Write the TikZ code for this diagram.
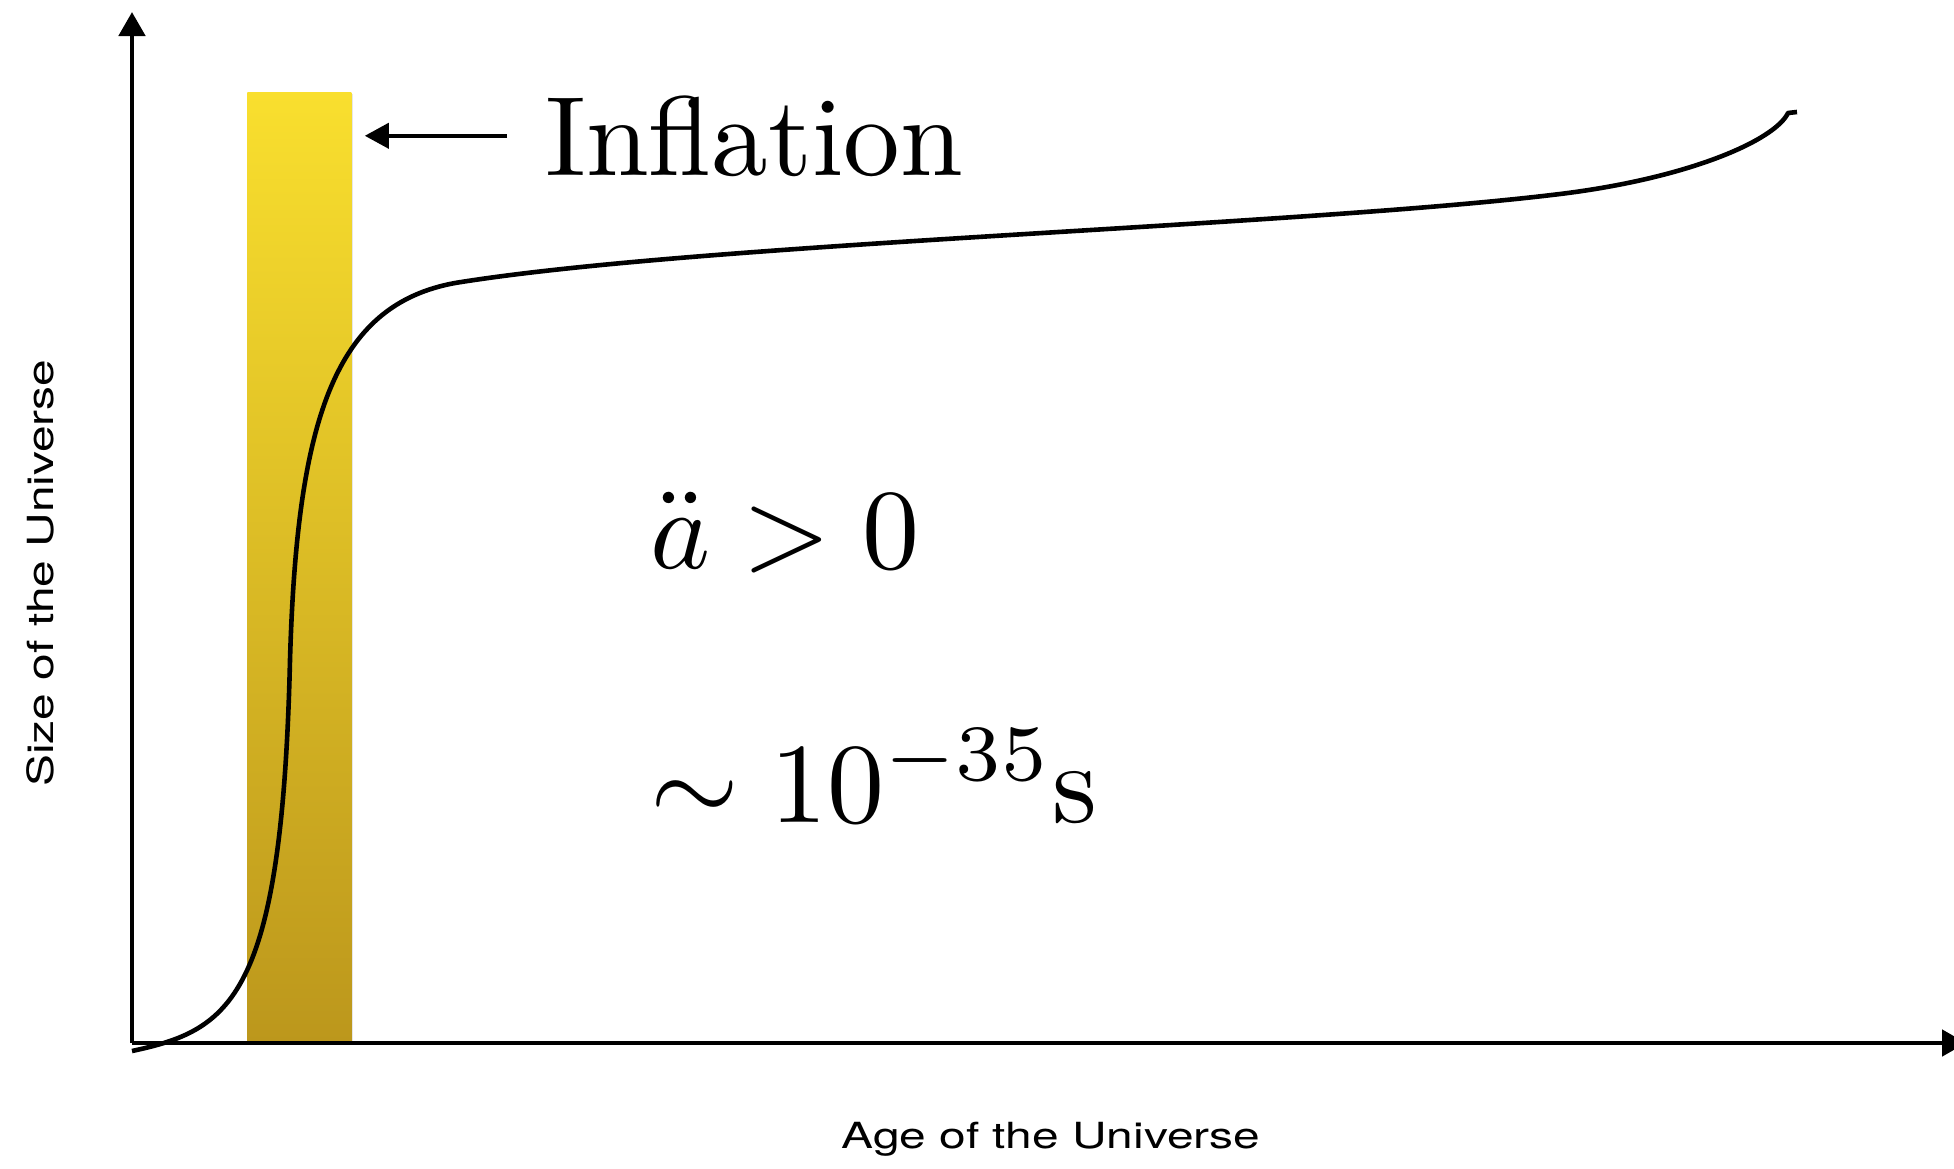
\documentclass[tikz,border=0pt]{standalone}
\usepackage{amsmath}
\usepackage{fontspec}
\newfontfamily\axisfont[FakeStretch=1.33]{TeX Gyre Heros}
\usetikzlibrary{arrows.meta,shadows}
\definecolor{inflTop}{RGB}{249,223,46}
\definecolor{inflBottom}{RGB}{188,151,28}

\begin{document}
\begin{tikzpicture}[x=0.5pt, y=-0.5pt,
    axis/.style={line width=2.4pt, -{Triangle[length=12pt, width=13pt]}},
    pointer/.style={line width=2pt, -{Triangle[length=12pt, width=12.5pt]}},
    curve/.style={line width=2.3pt, line join=round},
    axislabel/.style={font=\axisfont\fontsize{18}{20}\selectfont, inner sep=0pt},
    bigtext/.style={inner sep=0pt, anchor=base west, transform shape},
    inflbar/.style={rectangle, inner sep=0pt, minimum width=52pt, minimum height=475.5pt,
                    top color=inflTop, bottom color=inflBottom,
                    drop shadow={shadow xshift=0.8pt, shadow yshift=-0.8pt, opacity=0.2}}]
  \useasboundingbox (0,0) rectangle (1954,1168);
  % the inflation epoch
  \node[inflbar, anchor=north west] (bar) at (247,92) {};
  % axes
  \coordinate (origin) at (132,1043);
  \coordinate (ytip) at (132,12);
  \coordinate (xtip) at (1966,1043);
  \draw[axis] (origin) -- (ytip);
  \draw[axis] (origin) -- (xtip);
  \node[axislabel, rotate=90] (ylabel) at (40,573) {Size of the Universe};
  \node[axislabel, anchor=base] (xlabel) at (1051,1148) {Age of the Universe};
  % scale factor
  \draw[curve] (132,1051) .. controls (230,1030) and (282,1000) .. (290,660)
    .. controls (297,418) and (335,305) .. (455,283)
    .. controls (700,243) and (1300,226) .. (1560,194)
    .. controls (1690,178) and (1775,140) .. (1788,113) -- (1797,112);
  % labels
  \node[bigtext, scale=5.65] (infl) at (543,175) {Inflation};
  \draw[pointer] ([xshift=-18pt]infl.west) -- ([xshift=6.5pt]infl.west -| bar.east);
  \node[bigtext, scale=5.7] (accel) at (648,568) {$\ddot{a} > 0$};
  \node[bigtext, scale=5.7] (dur) at (648,822) {$\sim 10^{-35}\mathrm{s}$};
\end{tikzpicture}
\end{document}
